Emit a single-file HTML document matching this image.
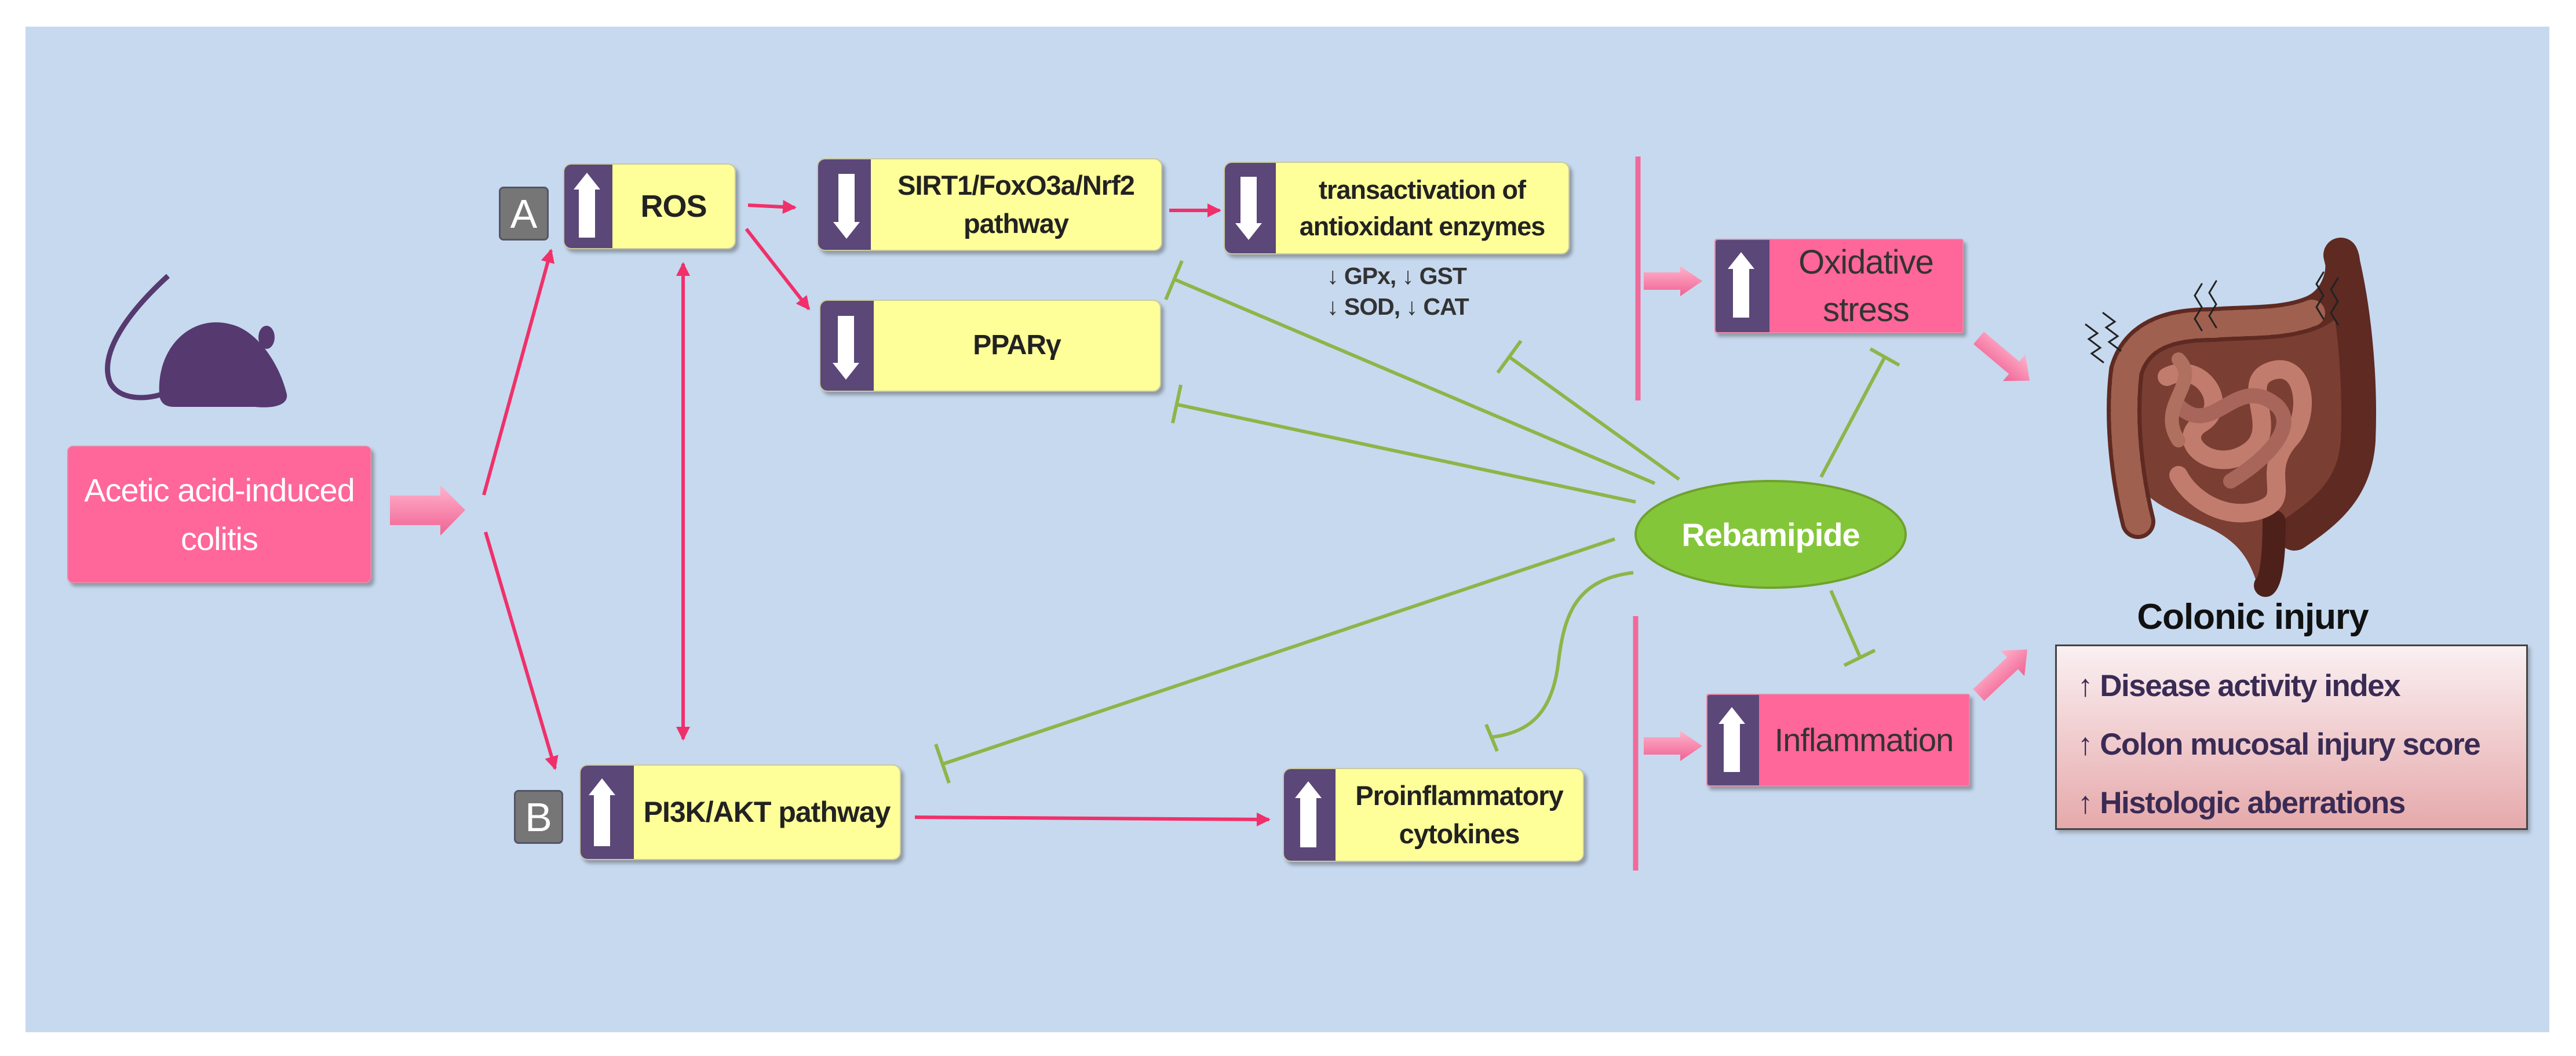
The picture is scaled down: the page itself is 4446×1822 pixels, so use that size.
<!DOCTYPE html>
<html><head><meta charset="utf-8"><style>
body{margin:0;width:4446px;height:1822px;background:#fff;position:relative;overflow:hidden;font-family:"Liberation Sans",sans-serif;}
#bg{position:absolute;left:44px;top:46px;width:4356px;height:1735px;background:#c6d9ef;}
svg{position:absolute;left:0;top:0;}
.b{position:absolute;background:#ffff99;border-radius:14px;box-shadow:5px 6px 6px rgba(80,80,80,.45);border:2px solid #c9c9a0;display:flex;align-items:center;justify-content:center;text-align:center;color:#222;font-weight:bold;box-sizing:border-box;line-height:1.3;letter-spacing:-1px;}
.pk{background:#ff6699;border-color:#e68aa8;color:#333;font-weight:normal;border-radius:4px;}
.p{position:absolute;left:0;top:0;bottom:0;background:#5b4778;border-radius:12px 0 0 12px;}
.lab{position:absolute;background:#767676;border:3px solid #556;border-radius:8px;color:#fff;font-family:"Liberation Sans",sans-serif;font-size:70px;display:flex;align-items:center;justify-content:center;box-sizing:border-box;}
</style></head><body>
<div id="bg"></div>
<svg width="4446" height="1822" viewBox="0 0 4446 1822">
<defs>
<marker id="ar" markerWidth="4" markerHeight="4" refX="3.5" refY="2" orient="auto" markerUnits="strokeWidth"><path d="M0,0 L4,2 L0,4 z" fill="#f0306a"/></marker>
<marker id="ar2" markerWidth="4" markerHeight="4" refX="3.5" refY="2" orient="auto-start-reverse" markerUnits="strokeWidth"><path d="M0,0 L4,2 L0,4 z" fill="#f0306a"/></marker>
<linearGradient id="fa" x1="0" y1="0" x2="0" y2="1"><stop offset="0" stop-color="#ffb3cc"/><stop offset="1" stop-color="#f06292"/></linearGradient>
</defs>
<g stroke="#f0306a" stroke-width="6" fill="none">
<line x1="835" y1="854" x2="951" y2="432" marker-end="url(#ar)"/>
<line x1="838" y1="918" x2="958" y2="1326" marker-end="url(#ar)"/>
<line x1="1179" y1="455" x2="1179" y2="1275" marker-start="url(#ar2)" marker-end="url(#ar)"/>
<line x1="1291" y1="354" x2="1372" y2="358" marker-end="url(#ar)"/>
<line x1="1288" y1="395" x2="1396" y2="533" marker-end="url(#ar)"/>
<line x1="2018" y1="363" x2="2105" y2="363" marker-end="url(#ar)"/>
<line x1="1579" y1="1410" x2="2190" y2="1414" marker-end="url(#ar)"/>
</g>
<g stroke="#f06a9a" stroke-width="9"><line x1="2827" y1="270" x2="2827" y2="691"/><line x1="2823" y1="1063" x2="2823" y2="1502"/></g>
<path d="M673,855 L760,855 L760,837 L803,880 L760,924 L760,906 L673,906 z" fill="url(#fa)"/>
<path d="M2837,470 L2900,470 L2900,459 L2938,485 L2900,511 L2900,500 L2837,500 z" fill="url(#fa)"/>
<path d="M2837,1272 L2900,1272 L2900,1261 L2938,1287 L2900,1313 L2900,1302 L2837,1302 z" fill="url(#fa)"/>
<g transform="translate(3415,583) rotate(40)"><path d="M0,-14 L80,-14 L80,-30 L115,0 L80,30 L80,14 L0,14 z" fill="url(#fa)"/></g>
<g transform="translate(3415,1199) rotate(-43)"><path d="M0,-14 L80,-14 L80,-30 L115,0 L80,30 L80,14 L0,14 z" fill="url(#fa)"/></g>
<g stroke="#8db548" stroke-width="6" fill="none">
<line x1="2856" y1="834" x2="2027" y2="482"/><line x1="2012" y1="517" x2="2040" y2="450"/>
<line x1="2823" y1="866" x2="2032" y2="698"/><line x1="2024" y1="730" x2="2038" y2="664"/>
<line x1="2898" y1="827" x2="2605" y2="616"/><line x1="2585" y1="643" x2="2625" y2="588"/>
<line x1="3143" y1="823" x2="3253" y2="616"/><line x1="3228" y1="602" x2="3278" y2="630"/>
<line x1="3160" y1="1019" x2="3210" y2="1133"/><line x1="3183" y1="1148" x2="3236" y2="1122"/>
<line x1="2787" y1="930" x2="1628" y2="1318"/><line x1="1615" y1="1284" x2="1638" y2="1351"/>
<path d="M2819,988 C2720,1000 2700,1060 2690,1140 C2680,1230 2640,1265 2572,1272"/><line x1="2565" y1="1250" x2="2584" y2="1296"/>
</g>
<ellipse cx="3056" cy="922" rx="233" ry="92" fill="#84c63a" stroke="#6ea22c" stroke-width="4"/>
<text x="3056" y="942" font-family="Liberation Sans, sans-serif" font-weight="bold" font-size="56" fill="#fff" text-anchor="middle" letter-spacing="-1">Rebamipide</text>
<g fill="#55396f">
<path d="M290,476 C220,540 170,610 190,660 C205,690 250,690 280,680" stroke="#55396f" stroke-width="9" fill="none"/>
<path d="M275,680 C270,600 330,540 400,560 C440,570 480,620 495,680 C498,700 470,705 440,702 L300,702 C285,702 276,695 275,680z"/>
<ellipse cx="460" cy="582" rx="14" ry="20"/>
</g>
<path d="M3660,640 C3680,560 3760,545 3830,545 C3900,545 3960,540 4000,505 C4040,470 4070,480 4075,560 C4090,680 4085,820 4050,880 C4010,930 3960,930 3940,940 C3920,960 3910,990 3905,1005 L3895,1005 C3880,960 3860,930 3800,905 C3740,880 3700,860 3690,830 C3660,760 3650,700 3660,640z" fill="#7a3e33"/>
<g fill="none" stroke-linecap="round">
<path d="M3690,900 C3670,820 3660,720 3670,640 C3690,570 3760,560 3820,560 C3880,555 3940,560 3990,540 C4040,520 4050,460 4040,440 M4040,440 C4060,520 4075,640 4070,760 C4065,840 4020,880 3960,920" stroke="#5e2a22" stroke-width="60"/>
<path d="M3690,900 C3670,820 3660,720 3670,640 C3690,570 3760,560 3820,560 C3880,555 3940,560 3990,540" stroke="#a0604f" stroke-width="46" stroke-dasharray="14 8"/>
<path d="M3925,900 C3925,960 3920,1000 3910,1010" stroke="#4d2019" stroke-width="40"/>
<path d="M3740,650 C3800,620 3850,700 3800,730 C3750,760 3820,820 3880,780 C3940,740 3860,660 3920,640 C3980,620 3990,720 3950,760 C3900,820 3960,860 3900,880 C3840,900 3780,860 3760,820" stroke="#c27c6e" stroke-width="32"/>
<path d="M3760,700 C3820,760 3860,640 3930,700 C3970,740 3900,800 3850,830" stroke="#a8665a" stroke-width="26"/>
<path d="M3760,620 C3800,660 3720,700 3760,760" stroke="#b0705f" stroke-width="24"/>
<g stroke="#222" stroke-width="3">
<path d="M3600,560 l20,15 l-15,10 l20,15 l-15,10 l20,15"/><path d="M3630,540 l20,15 l-15,10 l20,15 l-15,10 l20,15"/>
<path d="M3800,490 l-12,20 l12,20 l-12,20 l12,20"/><path d="M3825,485 l-12,20 l12,20 l-12,20 l12,20"/>
<path d="M4010,470 l-12,20 l12,20 l-12,20 l12,20"/><path d="M4035,480 l-12,20 l12,20 l-12,20 l12,20"/>
</g></g>
<text x="3888" y="1085" font-family="Liberation Sans, sans-serif" font-weight="bold" font-size="62" fill="#111" text-anchor="middle" letter-spacing="-1">Colonic injury</text>
</svg>

<div class="lab" style="left:861px;top:322px;width:86px;height:93px;">A</div>
<div class="lab" style="left:887px;top:1363px;width:85px;height:93px;">B</div>

<div class="b pk" style="left:116px;top:769px;width:525px;height:237px;color:#fff;font-size:56px;border-radius:10px;line-height:1.5;">Acetic acid-induced<br>colitis</div>

<div class="b" style="left:972px;top:282px;width:298px;height:148px;font-size:54px;padding-left:83px;"><div class="p" style="width:83px"></div>ROS</div>
<div class="b" style="left:1410px;top:273px;width:596px;height:160px;font-size:47px;padding-left:91px;line-height:1.4;"><div class="p" style="width:91px"></div>SIRT1/FoxO3a/Nrf2<br>pathway</div>
<div class="b" style="left:1414px;top:517px;width:590px;height:159px;font-size:48px;padding-left:92px;"><div class="p" style="width:92px"></div>PPARγ</div>
<div class="b" style="left:2112px;top:279px;width:597px;height:160px;font-size:45px;padding-left:88px;line-height:1.4;"><div class="p" style="width:88px"></div>transactivation of<br>antioxidant enzymes</div>
<div style="position:absolute;left:2290px;top:450px;font-size:41px;font-weight:bold;color:#333;line-height:1.3;letter-spacing:-1px;">↓ GPx, ↓ GST<br>↓ SOD, ↓ CAT</div>
<div class="b" style="left:1000px;top:1319px;width:555px;height:165px;font-size:50px;padding-left:92px;"><div class="p" style="width:92px"></div>PI3K/AKT pathway</div>
<div class="b" style="left:2214px;top:1325px;width:520px;height:162px;font-size:47px;padding-left:89px;line-height:1.4;"><div class="p" style="width:89px"></div>Proinflammatory<br>cytokines</div>
<div class="b pk" style="left:2959px;top:412px;width:430px;height:163px;font-size:58px;padding-left:93px;line-height:1.4;"><div class="p" style="width:93px;border-radius:4px 0 0 4px"></div>Oxidative<br>stress</div>
<div class="b pk" style="left:2945px;top:1197px;width:455px;height:160px;font-size:56px;padding-left:89px;"><div class="p" style="width:89px;border-radius:4px 0 0 4px"></div>Inflammation</div>

<div style="position:absolute;left:3547px;top:1112px;width:816px;height:320px;box-sizing:border-box;border:3px solid #444;background:linear-gradient(#faf0f2,#e6a9ab);font-size:53px;color:#3a2b55;font-weight:bold;padding:42px 0 0 36px;box-shadow:4px 5px 6px rgba(80,80,80,.4);letter-spacing:-1.5px;white-space:nowrap;">
<div style="line-height:1;margin-bottom:48px">↑ Disease activity index</div>
<div style="line-height:1;margin-bottom:48px">↑ Colon mucosal injury score</div>
<div style="line-height:1">↑ Histologic aberrations</div>
</div>

<svg width="4446" height="1822" style="pointer-events:none">
<g fill="#fff">
<path d="M1013,298 L1036,327 L1027,327 L1027,410 L999,410 L999,327 L990,327z"/>
<path d="M1447,300 L1475,300 L1475,383 L1484,383 L1461,412 L1438,383 L1447,383z"/>
<path d="M1446,545 L1474,545 L1474,626 L1483,626 L1460,655 L1437,626 L1446,626z"/>
<path d="M2141,305 L2169,305 L2169,385 L2178,385 L2155,414 L2132,385 L2141,385z"/>
<path d="M1039,1343 L1062,1372 L1053,1372 L1053,1460 L1025,1460 L1025,1372 L1016,1372z"/>
<path d="M2258,1348 L2281,1377 L2272,1377 L2272,1462 L2244,1462 L2244,1377 L2235,1377z"/>
<path d="M3005,435 L3028,464 L3019,464 L3019,548 L2991,548 L2991,464 L2982,464z"/>
<path d="M2989,1220 L3012,1249 L3003,1249 L3003,1332 L2975,1332 L2975,1249 L2966,1249z"/>
</g></svg>
</body></html>
